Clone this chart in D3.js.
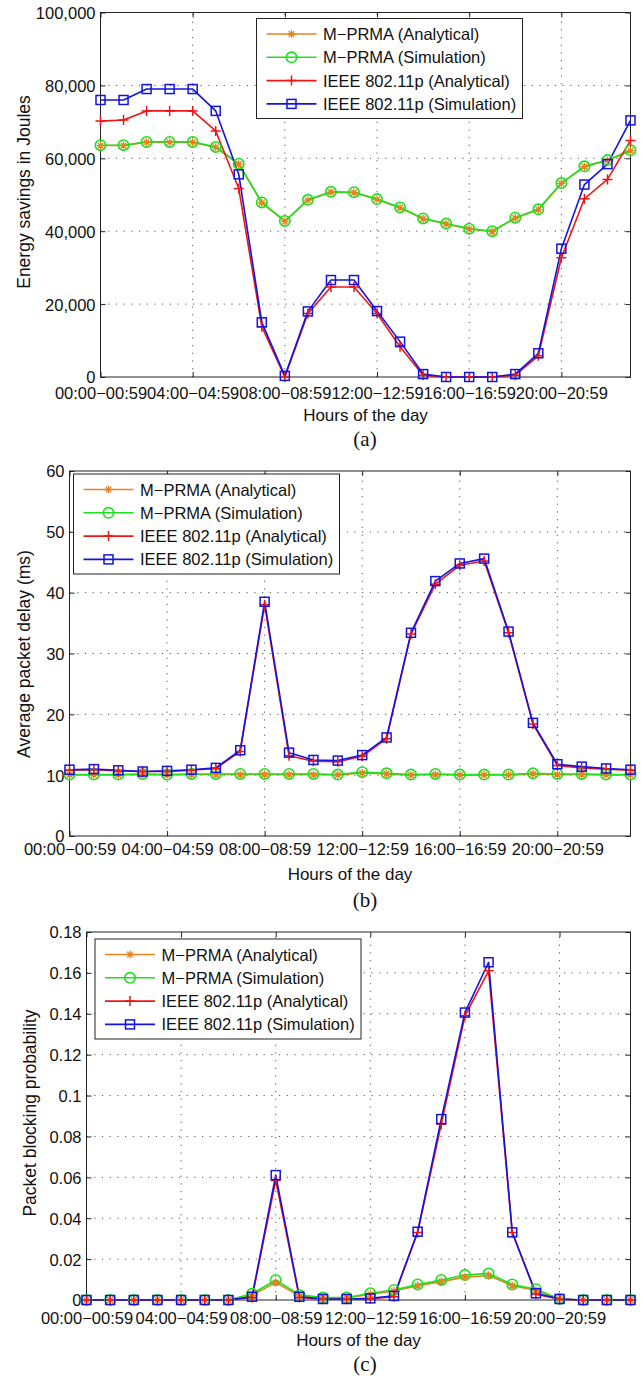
<!DOCTYPE html>
<html>
<head>
<meta charset="utf-8">
<script src="https://cdn.jsdelivr.net/npm/d3@7"></script>
<style>
  html, body { margin: 0; padding: 0; background: #fff; }
  svg text { font-family: "Liberation Sans", Arial, Helvetica, sans-serif; fill: #111; }
</style>
</head>
<body>
<svg id="fig" width="641" height="1377"></svg>
<script>
// Hour-of-day categories (x axis)
const hourLabels = [
  "00:00−00:59", "01:00−01:59", "02:00−02:59", "03:00−03:59",
  "04:00−04:59", "05:00−05:59", "06:00−06:59", "07:00−07:59",
  "08:00−08:59", "09:00−09:59", "10:00−10:59", "11:00−11:59",
  "12:00−12:59", "13:00−13:59", "14:00−14:59", "15:00−15:59",
  "16:00−16:59", "17:00−17:59", "18:00−18:59", "19:00−19:59",
  "20:00−20:59", "21:00−21:59", "22:00−22:59", "23:00−23:59"
];
const hourTickLabels = ["00:00−00:59", "04:00−04:59", "08:00−08:59", "12:00−12:59", "16:00−16:59", "20:00−20:59"];

const seriesNames = ["M−PRMA (Analytical)", "M−PRMA (Simulation)", "IEEE 802.11p (Analytical)", "IEEE 802.11p (Simulation)"];

// (a) Energy savings in Joules
const energyMprmaAna = [63500, 63500, 64400, 64400, 64400, 63000, 58400, 47800, 42700, 48500, 50700, 50600, 48700, 46400, 43400, 42000, 40600, 39900, 43600, 45900, 53100, 57700, 59400, 62100];
const energyMprmaSim = [63600, 63600, 64500, 64500, 64500, 63100, 58500, 47900, 42800, 48600, 50800, 50700, 48800, 46500, 43500, 42100, 40700, 40000, 43700, 46000, 53200, 57800, 59500, 62200];
const energyIeeeAna  = [70200, 70500, 73000, 73000, 73000, 67500, 51700, 13800, 0, 17400, 24700, 24700, 17400, 8300, 500, 0, 0, 0, 500, 5800, 32700, 48900, 54200, 64900];
const energyIeeeSim  = [76000, 76000, 79000, 79000, 79000, 73000, 55600, 15000, 300, 18000, 26600, 26600, 18100, 9700, 800, 0, 0, 0, 800, 6500, 35200, 52800, 58400, 70400];
const energyTicks = [0, 20000, 40000, 60000, 80000, 100000];

// (b) Average packet delay (ms)
const delayMprmaAna = [10.05, 10.05, 10.05, 10.1, 10.05, 10.1, 10.1, 10.1, 10.1, 10.1, 10.1, 10.05, 10.35, 10.2, 10.0, 10.1, 10.0, 10.05, 10.05, 10.2, 10.1, 10.1, 10.05, 10.05];
const delayMprmaSim = [10.1, 10.1, 10.1, 10.2, 10.1, 10.2, 10.2, 10.2, 10.2, 10.2, 10.2, 10.1, 10.5, 10.3, 10.1, 10.2, 10.1, 10.1, 10.1, 10.3, 10.2, 10.2, 10.1, 10.1];
const delayIeeeAna  = [10.8, 10.9, 10.7, 10.6, 10.6, 10.8, 11.1, 13.9, 38.0, 13.2, 12.3, 12.2, 13.1, 16.0, 33.2, 41.4, 44.5, 45.2, 33.4, 18.4, 11.6, 11.2, 11.0, 10.8];
const delayIeeeSim  = [10.9, 11.0, 10.8, 10.6, 10.7, 10.9, 11.2, 14.1, 38.5, 13.7, 12.5, 12.4, 13.3, 16.2, 33.4, 41.9, 44.8, 45.6, 33.6, 18.6, 11.8, 11.4, 11.1, 10.9];
const delayTicks = [0, 10, 20, 30, 40, 50, 60];

// (c) Packet blocking probability
const blockMprmaAna = [0, 0, 0, 0, 0, 0, 0, 0.0022, 0.0085, 0.0020, 0.0010, 0.0010, 0.0028, 0.0044, 0.0070, 0.0090, 0.0112, 0.0120, 0.0070, 0.0048, 0.0004, 0, 0, 0];
const blockMprmaSim = [0, 0, 0, 0, 0, 0, 0, 0.0030, 0.0098, 0.0025, 0.0012, 0.0012, 0.0033, 0.0049, 0.0076, 0.0098, 0.0122, 0.0130, 0.0076, 0.0053, 0.0005, 0, 0, 0];
const blockIeeeAna  = [0, 0, 0, 0, 0, 0, 0, 0.0012, 0.0585, 0.0012, 0.0004, 0.0004, 0.0006, 0.0016, 0.0330, 0.0860, 0.1390, 0.1610, 0.0330, 0.0028, 0.0004, 0, 0, 0];
const blockIeeeSim  = [0, 0, 0, 0, 0, 0, 0, 0.0016, 0.0611, 0.0016, 0.0005, 0.0005, 0.0008, 0.0020, 0.0334, 0.0885, 0.1406, 0.1652, 0.0331, 0.0033, 0.0005, 0, 0, 0];
const blockTicks = [0, 0.02, 0.04, 0.06, 0.08, 0.1, 0.12, 0.14, 0.16, 0.18];

// Series styling: line colour + marker type
const styles = [
  { color: "#e8821e", marker: "asterisk" },
  { color: "#1ee01e", marker: "circle" },
  { color: "#f01414", marker: "plus" },
  { color: "#1414e0", marker: "square" }
];

const panels = [
  {
    box: { left: 100.5, right: 630.5, top: 12.5, bottom: 377 },
    ticks: energyTicks, fmt: d3.format(","),
    series: [energyMprmaAna, energyMprmaSim, energyIeeeAna, energyIeeeSim],
    ylabel: "Energy savings in Joules", ylabelX: 30, ylabelY: 192,
    tickBase: 399, xlabelBase: 421, caption: "(a)", captionBase: 446,
    legend: { x: 256.5, y: 18.5 }
  },
  {
    box: { left: 69.5, right: 630.5, top: 471, bottom: 836 },
    ticks: delayTicks, fmt: d3.format("d"),
    series: [delayMprmaAna, delayMprmaSim, delayIeeeAna, delayIeeeSim],
    ylabel: "Average packet delay (ms)", ylabelX: 30, ylabelY: 654,
    tickBase: 855, xlabelBase: 880, caption: "(b)", captionBase: 907,
    legend: { x: 73.5, y: 474 }
  },
  {
    box: { left: 86.5, right: 630.5, top: 932, bottom: 1300 },
    ticks: blockTicks, fmt: d => d === 0 ? "0" : String(+d.toFixed(2)),
    series: [blockMprmaAna, blockMprmaSim, blockIeeeAna, blockIeeeSim],
    ylabel: "Packet blocking probability", ylabelX: 35.5, ylabelY: 1113,
    tickBase: 1324, xlabelBase: 1346, caption: "(c)", captionBase: 1371,
    legend: { x: 95, y: 939 }
  }
];

const svg = d3.select("#fig");
const FS = 16.5;

function drawMarker(g, type, cx, cy, color) {
  if (type === "circle") {
    g.append("circle").attr("cx", cx).attr("cy", cy).attr("r", 5.2)
      .attr("fill", "none").attr("stroke", color).attr("stroke-width", 1.6);
  } else if (type === "square") {
    g.append("rect").attr("x", cx - 4.5).attr("y", cy - 4.5).attr("width", 9).attr("height", 9)
      .attr("fill", "none").attr("stroke", color).attr("stroke-width", 1.5);
  } else if (type === "plus") {
    const r = 5;
    g.append("path").attr("d", `M${cx - r},${cy}H${cx + r}M${cx},${cy - r}V${cy + r}`)
      .attr("stroke", color).attr("stroke-width", 1.5).attr("fill", "none");
  } else {
    const r = 4, d = r * 0.72;
    g.append("path")
      .attr("d", `M${cx - r},${cy}H${cx + r}M${cx},${cy - r}V${cy + r}M${cx - d},${cy - d}L${cx + d},${cy + d}M${cx - d},${cy + d}L${cx + d},${cy - d}`)
      .attr("stroke", color).attr("stroke-width", 1.3).attr("fill", "none");
  }
}

panels.forEach(p => {
  const b = p.box;
  const g = svg.append("g");
  const x = d3.scalePoint().domain(hourLabels).range([b.left, b.right]).padding(0);
  const y = d3.scaleLinear().domain([p.ticks[0], p.ticks[p.ticks.length - 1]]).range([b.bottom, b.top]);

  // frame background
  g.append("rect").attr("x", b.left).attr("y", b.top)
    .attr("width", b.right - b.left).attr("height", b.bottom - b.top).attr("fill", "#fff");

  // dotted grid
  const grid = g.append("g").attr("stroke", "#555").attr("stroke-width", 1)
    .attr("stroke-dasharray", "1.2,6.5").attr("fill", "none");
  hourTickLabels.slice(1).forEach(h => {
    grid.append("line").attr("x1", x(h)).attr("x2", x(h)).attr("y1", b.bottom).attr("y2", b.top);
  });
  p.ticks.slice(1, -1).forEach(v => {
    grid.append("line").attr("x1", b.left).attr("x2", b.right).attr("y1", y(v)).attr("y2", y(v));
  });

  // axes with inward ticks
  const ax = g.append("g").attr("transform", `translate(0,${b.bottom})`)
    .call(d3.axisBottom(x).tickValues(hourTickLabels).tickSize(-5).tickPadding(0));
  ax.selectAll("text").attr("y", p.tickBase - b.bottom).attr("dy", null)
    .style("font-size", FS + "px");
  const ay = g.append("g").attr("transform", `translate(${b.left},0)`)
    .call(d3.axisLeft(y).tickValues(p.ticks).tickFormat(p.fmt).tickSize(-5).tickPadding(5));
  ay.selectAll("text").style("font-size", FS + "px").attr("dy", "0.36em");
  const at = g.append("g").attr("transform", `translate(0,${b.top})`)
    .call(d3.axisTop(x).tickValues(hourTickLabels).tickSize(-5).tickFormat(""));
  const ar = g.append("g").attr("transform", `translate(${b.right},0)`)
    .call(d3.axisRight(y).tickValues(p.ticks).tickSize(-5).tickFormat(""));
  [ax, ay, at, ar].forEach(a => {
    a.select(".domain").remove();
    a.selectAll("line").attr("stroke", "#222");
    a.attr("font-family", null).attr("font-size", null);
  });

  // frame
  g.append("rect").attr("x", b.left).attr("y", b.top)
    .attr("width", b.right - b.left).attr("height", b.bottom - b.top)
    .attr("fill", "none").attr("stroke", "#222").attr("stroke-width", 1);

  // series lines
  const line = d3.line().x((d, i) => x(hourLabels[i])).y(d => y(d));
  p.series.forEach((vals, k) => {
    g.append("path").datum(vals).attr("d", line).attr("fill", "none")
      .attr("stroke", styles[k].color).attr("stroke-width", 1.6).attr("stroke-linejoin", "round");
  });
  // markers
  [1, 0, 2, 3].forEach(k => {
    const mg = g.append("g");
    p.series[k].forEach((v, i) => drawMarker(mg, styles[k].marker, x(hourLabels[i]), y(v), styles[k].color));
  });

  // labels
  g.append("text").attr("transform", `translate(${p.ylabelX},${p.ylabelY}) rotate(-90)`)
    .attr("text-anchor", "middle").style("font-size", "17.5px").text(p.ylabel);
  g.append("text").attr("x", (b.left + b.right) / 2).attr("y", p.xlabelBase)
    .attr("text-anchor", "middle").style("font-size", "17px").text("Hours of the day");
  g.append("text").attr("x", 365).attr("y", p.captionBase).attr("text-anchor", "middle")
    .style("font-family", "'Liberation Serif', 'Times New Roman', serif").style("font-size", "21px")
    .text(p.caption);

  // legend
  const L = p.legend, lw = 266, lh = 100;
  const lg = g.append("g");
  lg.append("rect").attr("x", L.x).attr("y", L.y).attr("width", lw).attr("height", lh)
    .attr("fill", "#fff").attr("stroke", "#222").attr("stroke-width", 1);
  seriesNames.forEach((name, k) => {
    const cy = L.y + 15.5 + k * 23.3;
    lg.append("line").attr("x1", L.x + 10).attr("x2", L.x + 60).attr("y1", cy).attr("y2", cy)
      .attr("stroke", styles[k].color).attr("stroke-width", 1.6);
    drawMarker(lg, styles[k].marker, L.x + 35, cy, styles[k].color);
    lg.append("text").attr("x", L.x + 66.5).attr("y", cy + 6).style("font-size", FS + "px").text(name);
  });
});
</script>
</body>
</html>
